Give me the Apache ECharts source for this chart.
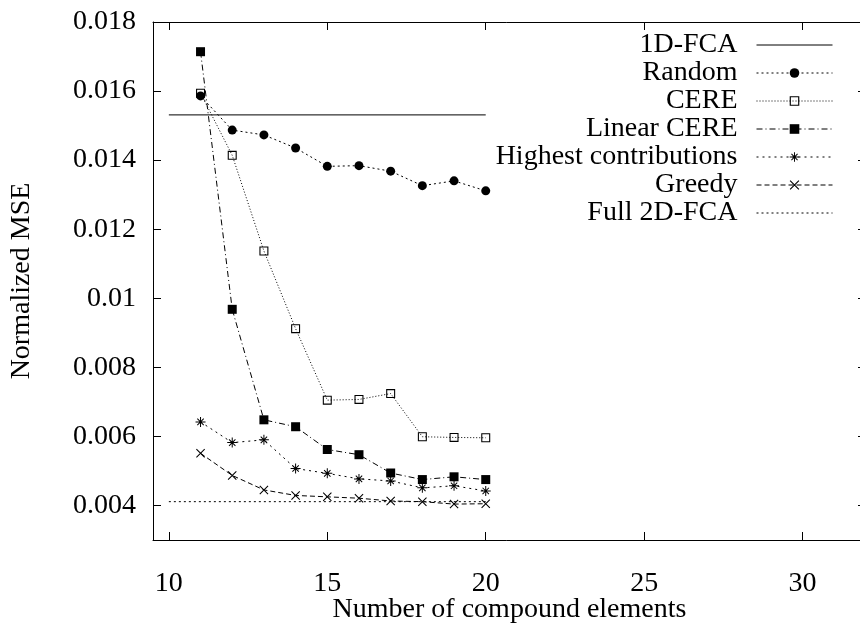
<!DOCTYPE html>
<html>
<head>
<meta charset="utf-8">
<script src="https://cdn.jsdelivr.net/npm/echarts@6/dist/echarts.min.js"></script>
<style>
html,body{margin:0;padding:0;background:#fff;}
#chart{width:860px;height:624px;}
</style>
</head>
<body>
<div id="chart"></div>
<script>
// ---- data ----
var xValues = [11, 12, 13, 14, 15, 16, 17, 18, 19, 20];
var randomMSE = [0.01586, 0.01487, 0.01473, 0.01435, 0.01382, 0.01384, 0.01368, 0.01326, 0.01340, 0.01311];
var cereMSE = [0.01594, 0.01414, 0.01137, 0.00912, 0.00705, 0.00707, 0.00724, 0.00599, 0.00597, 0.00596];
var linearCereMSE = [0.01714, 0.00968, 0.00648, 0.00628, 0.00562, 0.00547, 0.00494, 0.00475, 0.00483, 0.00475];
var highestMSE = [0.00642, 0.00582, 0.00590, 0.00507, 0.00493, 0.00477, 0.00471, 0.00451, 0.00457, 0.00442];
var greedyMSE = [0.00551, 0.00487, 0.00445, 0.00429, 0.00425, 0.00421, 0.00413, 0.00411, 0.00404, 0.00405];
var fca1dX = [10, 20];
var fca1dMSE = [0.01531, 0.01531];
var full2dX = [10, 20];
var full2dMSE = [0.00411, 0.00411];
var xTicks = [10, 15, 20, 25, 30];
var yTicks = [0.004, 0.006, 0.008, 0.010, 0.012, 0.014, 0.016, 0.018];
var seriesNames = ['1D-FCA', 'Random', 'CERE', 'Linear CERE', 'Highest contributions', 'Greedy', 'Full 2D-FCA'];
var xTitle = 'Number of compound elements';
var yTitle = 'Normalized MSE';

function pairs(xs, ys) { return xs.map(function (x, i) { return [x, ys[i]]; }); }

var FONT = 'Liberation Serif';
var FS = 28;
var symAsterisk = 'path://M0,9H20V11H0Z M9,0H11V20H9Z M4.3,2.9L17.1,15.7L15.7,17.1L2.9,4.3Z M2.9,15.7L15.7,2.9L17.1,4.3L4.3,17.1Z';
var symCross = 'path://M2.9,1.5L18.5,17.1L17.1,18.5L1.5,2.9Z M1.5,17.1L17.1,1.5L18.5,2.9L2.9,18.5Z';
var symOpenSquare = 'path://M0,0H10V10H0Z M1.2,1.2V8.8H8.8V1.2Z';

function mkSeries(name, data, symbol, size, dash) {
  return {
    name: name, type: 'line', data: data,
    symbol: symbol, symbolSize: size, showSymbol: symbol !== 'none', showAllSymbol: true,
    lineStyle: { color: '#000', width: 1, type: dash },
    itemStyle: { color: '#000', borderWidth: 0 },
    emphasis: { disabled: true }, silent: true, z: 3
  };
}

var chart = echarts.init(document.getElementById('chart'), null, { renderer: 'canvas' });
var axisCommon = {
  type: 'value', min: 9.5, max: 32,
  axisLine: { show: true, lineStyle: { color: '#000', width: 1 } },
  splitLine: { show: false }
};
chart.setOption({
  animation: false,
  backgroundColor: '#fff',
  grid: { left: 153, top: 22, width: 713, height: 518, containLabel: false, outerBoundsMode: 'none' },
  legend: {
    orient: 'vertical', align: 'right', right: 22, top: 26,
    itemWidth: 76, itemHeight: 12, itemGap: 0, selectedMode: false,
    textStyle: { fontFamily: FONT, fontSize: FS, color: '#000', lineHeight: 27.5, padding: [0, 14, 0, 0] },
    lineStyle: { width: 1 },
    itemStyle: { borderWidth: 0 },
    data: [
      { name: seriesNames[0], itemStyle: { opacity: 0 } },
      seriesNames[1], seriesNames[2], seriesNames[3], seriesNames[4], seriesNames[5],
      { name: seriesNames[6], itemStyle: { opacity: 0 } }
    ]
  },
  xAxis: [
    Object.assign({}, axisCommon, {
      position: 'bottom',
      name: xTitle, nameLocation: 'middle', nameGap: 56, nameMoveOverlap: false,
      nameTextStyle: { fontFamily: FONT, fontSize: FS, color: '#000' },
      axisTick: { show: true, inside: true, length: 8, customValues: xTicks, lineStyle: { color: '#000' } },
      axisLabel: { show: true, customValues: xTicks, margin: 30, fontFamily: FONT, fontSize: FS, color: '#000' }
    }),
    Object.assign({}, axisCommon, {
      position: 'top',
      axisTick: { show: true, inside: true, length: 8, customValues: xTicks, lineStyle: { color: '#000' } },
      axisLabel: { show: false }
    })
  ],
  yAxis: [
    {
      type: 'value', min: 0.003, max: 0.018, position: 'left',
      name: yTitle, nameLocation: 'middle', nameGap: 117, nameRotate: 90, nameMoveOverlap: false,
      nameTextStyle: { fontFamily: FONT, fontSize: FS, color: '#000' },
      axisLine: { show: true, lineStyle: { color: '#000', width: 1 } },
      axisTick: { show: true, inside: true, length: 8, customValues: yTicks, lineStyle: { color: '#000' } },
      axisLabel: { show: true, customValues: yTicks, margin: 17, fontFamily: FONT, fontSize: FS, color: '#000' },
      splitLine: { show: false }
    },
    {
      type: 'value', min: 0.003, max: 0.018, position: 'right',
      axisLine: { show: true, lineStyle: { color: '#000', width: 1 } },
      axisTick: { show: true, inside: true, length: 8, customValues: yTicks, lineStyle: { color: '#000' } },
      axisLabel: { show: false },
      splitLine: { show: false }
    }
  ],
  series: [
    mkSeries(seriesNames[0], pairs(fca1dX, fca1dMSE), 'none', 0, 'solid'),
    mkSeries(seriesNames[1], pairs(xValues, randomMSE), 'circle', 9, [2, 3]),
    mkSeries(seriesNames[2], pairs(xValues, cereMSE), symOpenSquare, 9, [1, 2]),
    mkSeries(seriesNames[3], pairs(xValues, linearCereMSE), 'rect', 9, [6, 3, 1, 3]),
    mkSeries(seriesNames[4], pairs(xValues, highestMSE), symAsterisk, 10, [2, 4]),
    mkSeries(seriesNames[5], pairs(xValues, greedyMSE), symCross, 9, [5, 3]),
    mkSeries(seriesNames[6], pairs(full2dX, full2dMSE), 'none', 0, [2, 3])
  ]
});
</script>
</body>
</html>
